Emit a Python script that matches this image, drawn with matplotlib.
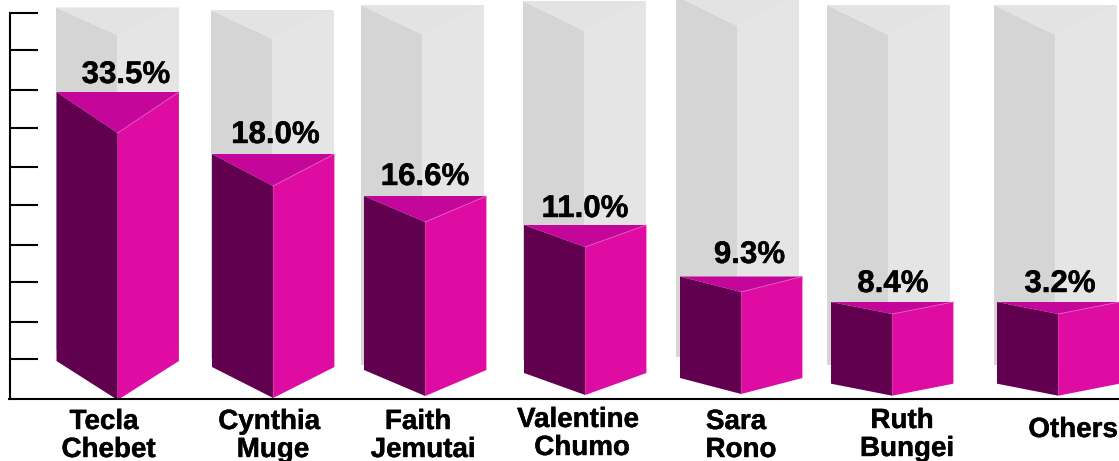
#!/usr/bin/env python
# Pseudo 3D column chart of vote shares, drawn on a baseline-up axis in pixels.

import matplotlib
matplotlib.use('Agg')
import matplotlib.pyplot as plt
import matplotlib.patheffects as pe

first_names = ['Tecla', 'Cynthia', 'Faith', 'Valentine', 'Sara', 'Ruth', '']
last_names = ['Chebet', 'Muge', 'Jemutai', 'Chumo', 'Rono', 'Bungei', '']
shares = [33.5, 18.0, 16.6, 11.0, 9.3, 8.4, 3.2]
# drawn column heights are not proportional to the shares in the original
bar_heights = [307, 245, 203, 174, 122.5, 97, 97]
ghost_heights = [391.5, 389, 394, 398, 403, 394, 394]

# layout, all in pixels
bar_left = [56.5, 212, 364, 524, 680, 831, 997]
ghost_left = [56, 211, 361, 523, 676, 827, 994]
bar_half = 61.2
ghost_half = 61.5
bar_drop = [41, 32, 26, 22, 15.5, 12, 12]
bar_side = [38, 32, 29, 26, 21, 15.3, 15.3]
bar_vertex = [-1, 1, 3, 4, 5, 3.3, 3.3]
ghost_drop = [27.5, 29, 29.5, 30, 30, 30, 30]
ghost_side = [49, 40, 34, 39, 42, 34, 34]
value_x = [126, 275.5, 425, 585, 749.5, 893, 1060]
value_y = [316, 256, 214, 182, 136, 107, 107]
first_x = [104, 269, 418, 578, 736, 902]
first_y = [-30, -30, -30, -28, -30, -29]
last_x = [108.5, 273, 423, 582, 741, 907]
last_y = [-58, -58, -58, -56, -58, -57]
tick_y = [40, 77, 117, 154, 194, 232, 271, 309, 349, 386]

DARK = '#620050'
MID = '#DE0CA2'
TOP = '#C4069A'
EDGE = '#E55CBE'
G_LEFT = '#D5D5D5'
G_RIGHT = '#E5E5E5'
G_TOP = '#E3E3E3'

plt.rcParams['font.family'] = ['Liberation Sans', 'DejaVu Sans']
heavy = [pe.withStroke(linewidth=0.3, foreground='black')]

fig = plt.figure(figsize=(11.19, 4.61), dpi=100)
ax = fig.add_axes([0, 0, 1, 1])
ax.set_xlim(0, 1119)
ax.set_ylim(-62, 399)
ax.patch.set_visible(False)


def column(left, half, height, drop, side, vertex, c_left, c_right, c_top, zorder):
    mid = left + half
    right = left + 2 * half
    ax.fill([left, mid, mid, left], [height, height - drop, vertex, side],
            color=c_left, lw=0, zorder=zorder)
    ax.fill([mid, right, right, mid], [height - drop, height, side, vertex],
            color=c_right, lw=0, zorder=zorder)
    ax.fill([left, right, mid], [height, height, height - drop],
            color=c_top, lw=0, zorder=zorder)


for i in range(len(shares)):
    column(ghost_left[i], ghost_half, ghost_heights[i], ghost_drop[i], ghost_side[i],
           ghost_side[i], G_LEFT, G_RIGHT, G_TOP, 1)

for i in range(len(shares)):
    column(bar_left[i], bar_half, bar_heights[i], bar_drop[i], bar_side[i], bar_vertex[i],
           DARK, MID, TOP, 2)
    ax.plot([bar_left[i] + bar_half, bar_left[i] + 2 * bar_half],
            [bar_heights[i] - bar_drop[i], bar_heights[i]],
            color=EDGE, lw=0.6, zorder=3)
    ax.text(value_x[i], value_y[i], '%.1f%%' % shares[i], ha='center', va='baseline',
            fontsize=22.5, fontweight='bold', color='black', zorder=4, path_effects=heavy)

for i in range(6):
    ax.text(first_x[i], first_y[i], first_names[i], ha='center', va='baseline',
            fontsize=20, fontweight='bold', color='black', path_effects=heavy)
    ax.text(last_x[i], last_y[i], last_names[i], ha='center', va='baseline',
            fontsize=20, fontweight='bold', color='black', path_effects=heavy)
ax.text(1073, -38, 'Others', ha='center', va='baseline',
        fontsize=20, fontweight='bold', color='black', path_effects=heavy)

# axis: left spine with inward ticks and no labels, baseline along the bottom
for side_name in ('top', 'right'):
    ax.spines[side_name].set_visible(False)
ax.spines['left'].set_position(('data', 9.5))
ax.spines['left'].set_bounds(0, 386)
ax.spines['left'].set_linewidth(1.5)
ax.spines['left'].set_zorder(5)
ax.spines['bottom'].set_position(('data', 0))
ax.spines['bottom'].set_bounds(8.5, 1119)
ax.spines['bottom'].set_linewidth(1.5)
ax.spines['bottom'].set_zorder(5)
ax.set_xticks([])
ax.set_yticks(tick_y)
ax.set_yticklabels([])
ax.tick_params(axis='y', direction='in', length=20.5, width=1.5, color='black')

fig.savefig('out.png', dpi=100, facecolor='white')
